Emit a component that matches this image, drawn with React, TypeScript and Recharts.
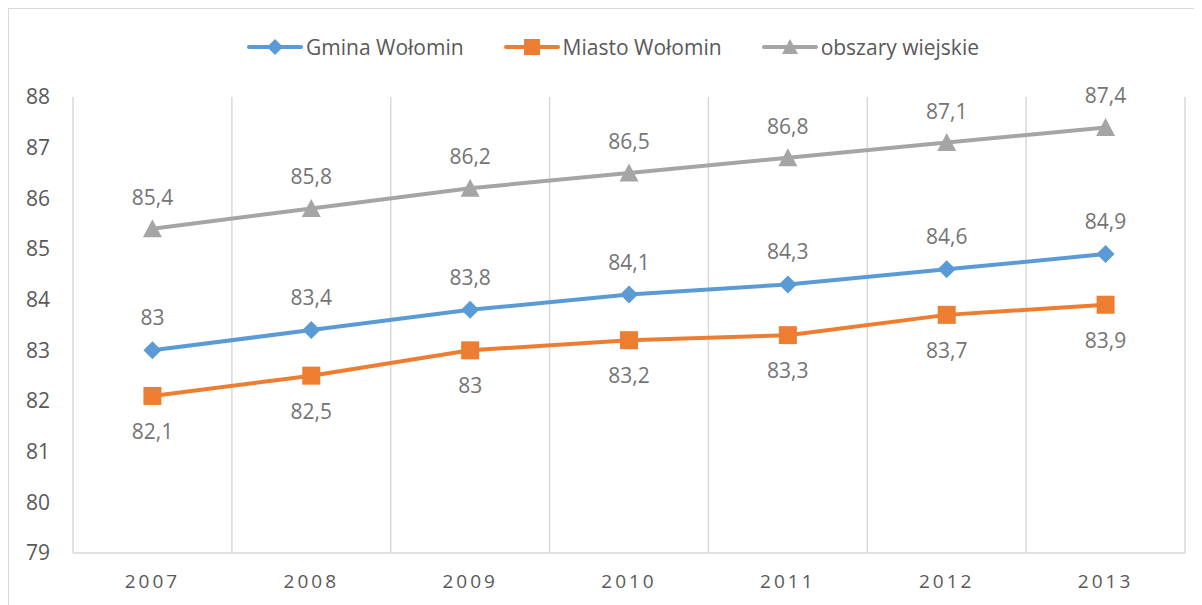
import React from 'react';
import { LineChart, Line, XAxis, YAxis, CartesianGrid, LabelList } from 'recharts';

const years = ['2007', '2008', '2009', '2010', '2011', '2012', '2013'];
const gmina = [83, 83.4, 83.8, 84.1, 84.3, 84.6, 84.9];
const miasto = [82.1, 82.5, 83, 83.2, 83.3, 83.7, 83.9];
const obszary = [85.4, 85.8, 86.2, 86.5, 86.8, 87.1, 87.4];
const yTicks = [79, 80, 81, 82, 83, 84, 85, 86, 87, 88];

const seriesNames = ['Gmina Wołomin', 'Miasto Wołomin', 'obszary wiejskie'];
const colors = ['#5B9BD5', '#ED7D31', '#A5A5A5'];

const data = years.map((y, i) => ({ year: y, gmina: gmina[i], miasto: miasto[i], obszary: obszary[i] }));

const FONT = '"Open Sans", sans-serif';
const fmt = (v: any) => String(v).replace('.', ',');

const Diamond = (props: any) => {
  const { cx, cy, fill, size = 9 } = props;
  if (cx == null || cy == null) return null;
  return <polygon points={`${cx},${cy - size} ${cx + size},${cy} ${cx},${cy + size} ${cx - size},${cy}`} fill={fill} />;
};
const Square = (props: any) => {
  const { cx, cy, fill, size = 9 } = props;
  if (cx == null || cy == null) return null;
  return <rect x={cx - size} y={cy - size} width={size * 2} height={size * 2} fill={fill} />;
};
const Triangle = (props: any) => {
  const { cx, cy, fill, size = 9 } = props;
  if (cx == null || cy == null) return null;
  return <polygon points={`${cx},${cy - size} ${cx + size},${cy + size - 1} ${cx - size},${cy + size - 1}`} fill={fill} />;
};
const shapes = [Diamond, Square, Triangle];

const LegendIcon = ({ idx }: { idx: number }) => {
  const Shape = shapes[idx];
  return (
    <svg width={56} height={20} style={{ display: 'block' }}>
      <line x1={2} y1={10} x2={54} y2={10} stroke={colors[idx]} strokeWidth={4} strokeLinecap="round" />
      <Shape cx={28} cy={10} fill={colors[idx]} size={8} />
    </svg>
  );
};

export default function App() {
  return (
    <div
      style={{
        position: 'relative',
        width: 1194,
        height: 597,
        boxSizing: 'border-box',
        borderTop: '1px solid #d9d9d9',
        borderLeft: '1px solid #d9d9d9',
        background: '#fff',
        overflow: 'hidden',
      }}
    >
      <div
        style={{
          position: 'absolute',
          left: 238,
          top: 24,
          display: 'flex',
          alignItems: 'center',
          fontFamily: FONT,
          fontSize: 21,
          color: '#595959',
          whiteSpace: 'nowrap',
        }}
      >
        {seriesNames.map((n, i) => (
          <div key={n} style={{ display: 'flex', alignItems: 'center', marginRight: i < 2 ? 40 : 0 }}>
            <LegendIcon idx={i} />
            <span style={{ marginLeft: 3 }}>{n}</span>
          </div>
        ))}
      </div>
      <LineChart width={1193} height={596} data={data} margin={{ top: 88, right: 17, bottom: 12, left: 10 }}>
        <CartesianGrid
          horizontal={false}
          vertical
          stroke="#d9d9d9"
          strokeWidth={1.5}
          verticalCoordinatesGenerator={({ offset }: any) =>
            [...years.map((_, i) => offset.left + (i * offset.width) / years.length), offset.left + offset.width]
          }
        />
        <XAxis
          dataKey="year"
          scale="band"
          tickLine={false}
          tickSize={0}
          tickMargin={22}
          height={40}
          axisLine={{ stroke: '#d9d9d9', strokeWidth: 1.5 }}
          tick={{ fill: '#595959', fontSize: 19, fontFamily: FONT, letterSpacing: 3 }}
        />
        <YAxis
          domain={[79, 88]}
          ticks={yTicks}
          interval={0}
          width={54}
          axisLine={false}
          tickLine={false}
          tickSize={0}
          tickMargin={23}
          tick={{ fill: '#595959', fontSize: 21, fontFamily: FONT }}
        />
        <Line
          dataKey="gmina"
          stroke={colors[0]}
          strokeWidth={4}
          isAnimationActive={false}
          dot={(p: any) => <Diamond key={`g${p.index}`} cx={p.cx} cy={p.cy} fill={colors[0]} size={9} />}
          activeDot={false}
        >
          <LabelList dataKey="gmina" position="top" offset={25} formatter={fmt} fill="#757575" fontSize={21} fontFamily={FONT} />
        </Line>
        <Line
          dataKey="miasto"
          stroke={colors[1]}
          strokeWidth={4}
          isAnimationActive={false}
          dot={(p: any) => <Square key={`m${p.index}`} cx={p.cx} cy={p.cy} fill={colors[1]} size={9} />}
          activeDot={false}
        >
          <LabelList dataKey="miasto" position="bottom" offset={28} formatter={fmt} fill="#757575" fontSize={21} fontFamily={FONT} />
        </Line>
        <Line
          dataKey="obszary"
          stroke={colors[2]}
          strokeWidth={4}
          isAnimationActive={false}
          dot={(p: any) => <Triangle key={`o${p.index}`} cx={p.cx} cy={p.cy} fill={colors[2]} size={9.5} />}
          activeDot={false}
        >
          <LabelList dataKey="obszary" position="top" offset={24} formatter={fmt} fill="#757575" fontSize={21} fontFamily={FONT} />
        </Line>
      </LineChart>
    </div>
  );
}
